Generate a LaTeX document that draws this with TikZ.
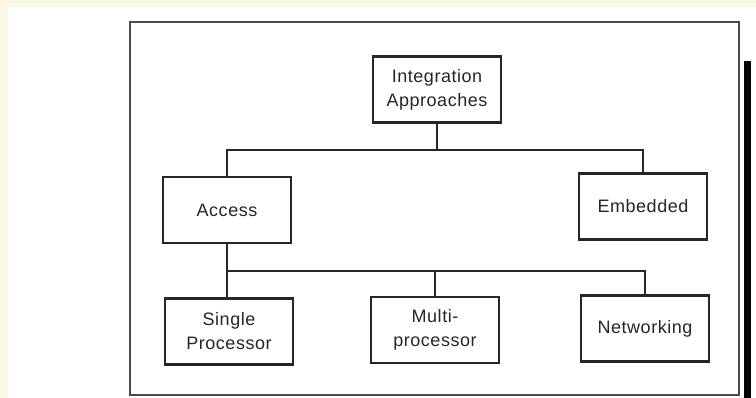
\documentclass[tikz,border=0pt]{standalone}
\usepackage{fontspec}
\setmainfont{Liberation Sans}[LetterSpace=3]
\usepackage{xcolor}
\usetikzlibrary{calc}
\definecolor{cream}{HTML}{FAF8E2}
\definecolor{scan}{HTML}{262626}
\definecolor{frameink}{HTML}{4A4A4A}
\tikzset{
  blk/.style={draw=scan,line width=2.4pt,fill=white,align=center,inner sep=0pt,
    minimum width=128pt,minimum height=66pt,text=scan,
    font=\fontsize{18}{24}\selectfont},
  link/.style={draw=scan,line width=1.4pt},
  frame/.style={draw=frameink,line width=1.3pt},
}

\begin{document}
\begin{tikzpicture}[x=1pt,y=-1pt]
  \useasboundingbox (0,0) rectangle (756,398);
  \fill[cream] (0,0) rectangle (756,398);
  \fill[white] (8,7) rectangle (756,398);
  \draw[frame] (130,22) rectangle (739,395);
  \fill[black] (744,61) rectangle (751,398);

  \node[blk] (root) at (437,89.5) {Integration\\Approaches};
  \node[blk] (access) at (227,210) {Access};
  \node[blk] (embed) at (643,206.5) {Embedded};
  \node[blk] (single) at (229,331.5) {Single\\Processor};
  \node[blk] (multi) at (435,330) {Multi-\\processor};
  \node[blk] (net) at (645,328.5) {Networking};

  \coordinate (top) at (root.south |- 0,150);
  \draw[link] (root.south) -- (top);
  \draw[link] (access.north) |- (top) -| (embed.north);

  \coordinate (bus) at (access.south |- 0,271);
  \draw[link] (access.south) -- (bus) -- (bus |- single.north);
  \draw[link] (bus) -| (multi.north);
  \draw[link] (bus) -| (net.north);
\end{tikzpicture}
\end{document}
